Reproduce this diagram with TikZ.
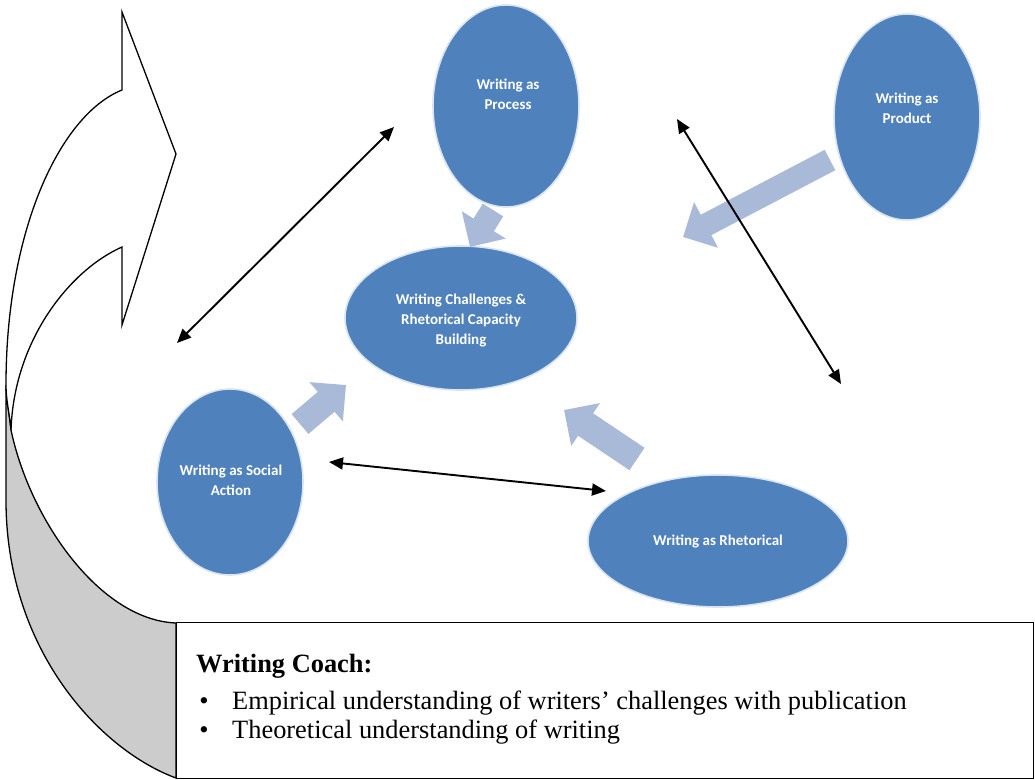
\documentclass[tikz,border=0pt]{standalone}
\usepackage{fontspec}
\setmainfont{Liberation Serif}
\newfontfamily\calibri{Carlito}
\usetikzlibrary{arrows.meta,shapes.geometric,calc}
\definecolor{blobblue}{HTML}{4F81BD}
\definecolor{blobedge}{HTML}{D9E4F1}
\definecolor{blockblue}{HTML}{A9BAD8}
\definecolor{backgray}{HTML}{CCCCCC}
\begin{document}
\begin{tikzpicture}[x=1pt,y=-1pt,
  blob/.style={ellipse, fill=blobblue, draw=blobedge, line width=1.6pt, inner sep=0pt},
  blobtext/.style={text=white, inner sep=0pt, font=\calibri\bfseries\fontsize{15}{20}\selectfont, align=center},
  dbl/.style={line width=1.9pt, arrows={Triangle[length=14pt,width=12pt]-Triangle[length=14pt,width=12pt]}},
  fat/.style={draw=blockblue, line width=#1, arrows={-Triangle[length=26pt,width=50pt]}},
  outline/.style={draw=black, line width=1.3pt, line join=miter},
  boxtext/.style={anchor=base west, inner sep=0pt, font=\fontsize{26.4}{30}\selectfont},
]
\useasboundingbox (0,0) rectangle (1035,779);

% curved arrow: back face
\draw[outline, fill=backgray] (6,385) -- (6,500) .. controls (6,650) and (100,750) .. (176,778)
  -- (176,623) .. controls (100,620) and (30,520) .. (11,430)
  .. controls (9,410) and (6,400) .. (6,385) -- cycle;
% curved arrow: front face
\draw[outline, fill=white] (122,90) -- (122,12) -- (176,154) -- (122,325) -- (122,247)
  .. controls (70,270) and (14,340) .. (11,430)
  .. controls (9,410) and (6,400) .. (6,385)
  .. controls (6,230) and (60,115) .. (122,90) -- cycle;

% coach box
\node[draw, line width=1.1pt, anchor=north west, minimum width=857pt, minimum height=156pt, inner sep=0pt] (coach) at (176,622) {};
\node[boxtext, font=\bfseries\fontsize{26.4}{30}\selectfont] (title) at (196,672) {Writing Coach:};
\node[boxtext, anchor=base] (bul1) at (204,709) {\textbullet};
\node[boxtext] (item1) at (232,709) {Empirical understanding of writers’ challenges with publication};
\node[boxtext, anchor=base] (bul2) at (204,738) {\textbullet};
\node[boxtext] (item2) at (232,738) {Theoretical understanding of writing};

% ellipses
\node[blob, minimum width=146pt, minimum height=202pt] (proc) at (506,106) {};
\node[blob, minimum width=146pt, minimum height=206pt] (prod) at (907,117) {};
\node[blob, minimum width=232pt, minimum height=144pt] (cent) at (461,318) {};
\node[blob, minimum width=146pt, minimum height=186pt] (soc) at (230,482) {};
\node[blob, minimum width=260pt, minimum height=132pt] (rhet) at (718,541) {};
\node[blobtext] (proct) at ($(proc)+(2,-12)$) {Writing as\\Process};
\node[blobtext] (prodt) at ($(prod)+(0,-9)$) {Writing as\\Product};
\node[blobtext] (centt) at ($(cent)+(0,2)$) {Writing Challenges \&\\Rhetorical Capacity\\Building};
\node[blobtext] (soct) at ($(soc)+(1,-2)$) {Writing as Social\\Action};
\node[blobtext] (rhett) at ($(rhet)+(0,0)$) {Writing as Rhetorical};

% block arrow end points
\coordinate (aS) at (493,210); \coordinate (aE) at (470,247);
\coordinate (bS) at (830,160); \coordinate (bE) at (683,237);
\coordinate (cS) at (300,424); \coordinate (cE) at (346,385);
\coordinate (dS) at (637,459); \coordinate (dE) at (564,410);
\draw[fat=24pt] (aS) -- (aE);
\draw[fat=23pt] (bS) -- (bE);
\draw[fat=26pt] (cS) -- (cE);
\draw[fat=27pt] (dS) -- (dE);

% double-headed connectors
\coordinate (p1) at (177,343); \coordinate (p2) at (394,127);
\coordinate (q1) at (677,119); \coordinate (q2) at (841,384);
\coordinate (r1) at (329,462); \coordinate (r2) at (606,491);
\draw[dbl] (p1) -- (p2);
\draw[dbl] (q1) -- (q2);
\draw[dbl] (r1) -- (r2);
\end{tikzpicture}
\end{document}
